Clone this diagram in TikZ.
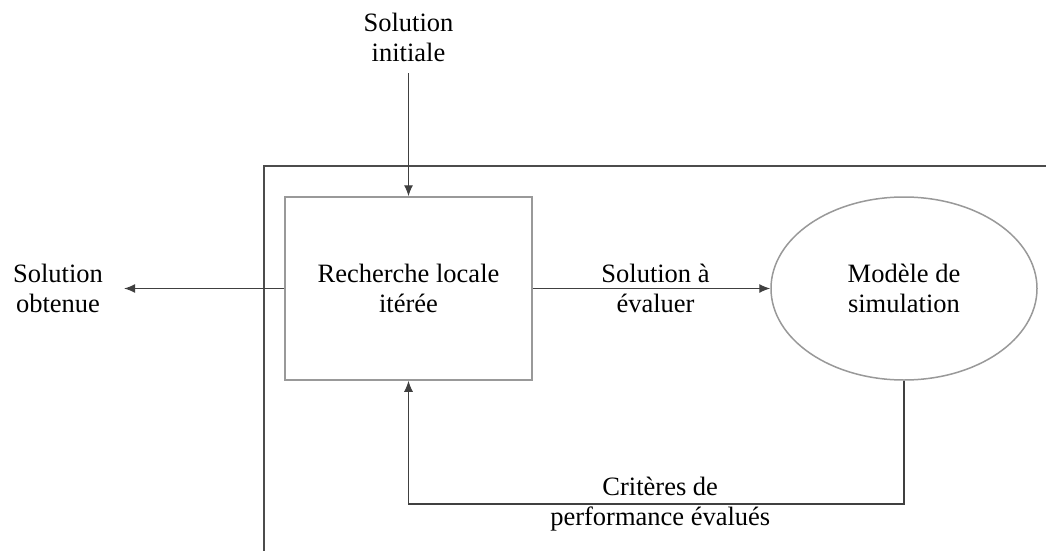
\documentclass[tikz,border=0pt]{standalone}
\usepackage{fontspec}
\setmainfont{Liberation Serif}
\usetikzlibrary{arrows.meta,shapes.geometric}
\tikzset{
  lbl/.style={font=\fontsize{26.5}{30}\selectfont, align=center, inner sep=0pt, text=black},
  boxshape/.style={draw=black!40, line width=1.5pt, fill=white},
  arr/.style={draw=black!75, line width=1.2pt, -{Latex[length=11pt,width=9pt]}},
  frame/.style={draw=black!70, line width=1.2pt}
}
\begin{document}
\begin{tikzpicture}[x=1pt,y=-1pt]
\useasboundingbox (0,0) rectangle (1046,551);
% outer frame (partial)
\draw[frame] (264,551) -- (264,166) -- (1046,166);
% nodes
\node[boxshape, lbl, rectangle, minimum width=247pt, minimum height=183pt] (rl) at (408.5,288.5) {Recherche locale\\itérée};
\node[boxshape, lbl, ellipse, minimum width=266pt, minimum height=183pt] (sim) at (904,288.5) {Modèle de\\simulation};
\node[lbl] (init) at (408.5,37.5) {Solution\\initiale};
\node[lbl] (obt) at (58,288.5) {Solution\\obtenue};
\coordinate (lowy) at (0,504);
% connectors
\draw[arr, shorten <=11pt] (init.south) -- (rl.north);
\draw[arr, shorten >=21pt] (rl.west) -- (obt.east);
\draw[arr] (rl.east) -- node[lbl, xshift=4pt] (sae) {Solution à\\évaluer} (sim.west);
\draw[arr] (sim.south) -- (sim.south |- lowy) -- node[lbl, xshift=4pt] (crit) {Critères de\\performance évalués} (rl.south |- lowy) -- (rl.south);
\end{tikzpicture}
\end{document}
